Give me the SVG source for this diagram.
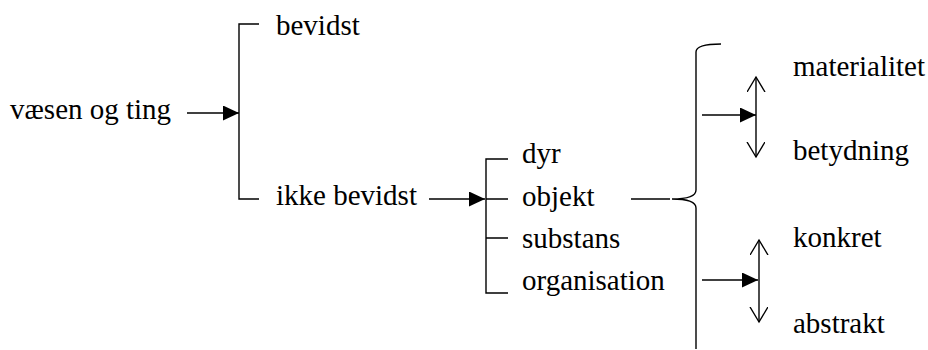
<svg xmlns="http://www.w3.org/2000/svg" width="928" height="350" viewBox="0 0 928 350">
<style>
.ln { stroke: #000; stroke-width: 1.4; fill: none; }
text { font-family: "Liberation Serif", "Times New Roman", serif; font-size: 29px; fill: #000; }
</style>
<defs>
<marker id="fa" markerUnits="userSpaceOnUse" markerWidth="17" markerHeight="16" refX="16" refY="7.5" orient="auto">
<path d="M0,0 L16,7.5 L0,15 z" fill="#000"/>
</marker>
<marker id="oa" markerUnits="userSpaceOnUse" markerWidth="17" markerHeight="20" refX="15" refY="9" orient="auto-start-reverse">
<path d="M0,0 L15,9 L0,18" fill="none" stroke="#000" stroke-width="1.4"/>
</marker>
</defs>
<g id="n-vaesen"><text x="10" y="119">væsen og ting</text></g>
<g id="n-bevidst"><text x="276" y="35">bevidst</text></g>
<g id="n-ikke"><text x="276" y="205">ikke bevidst</text></g>
<g id="n-dyr"><text x="522" y="163">dyr</text></g>
<g id="n-objekt"><text x="522" y="206">objekt</text></g>
<g id="n-substans"><text x="522" y="248">substans</text></g>
<g id="n-organisation"><text x="522" y="290">organisation</text></g>
<g id="n-materialitet"><text x="793" y="76">materialitet</text></g>
<g id="n-betydning"><text x="793" y="160">betydning</text></g>
<g id="n-konkret"><text x="793" y="247">konkret</text></g>
<g id="n-abstrakt"><text x="793" y="333">abstrakt</text></g>
<g id="connectors">
<line class="ln" x1="187" y1="113" x2="239" y2="113" marker-end="url(#fa)"/>
<path class="ln" d="M259,24 H239 V199 H259"/>
<line class="ln" x1="429" y1="199" x2="485" y2="199" marker-end="url(#fa)"/>
<path class="ln" d="M508,159 H486 V293 H508 M486,199 H508 M486,238 H508"/>
<line class="ln" x1="631" y1="199" x2="670" y2="199"/>
<path class="ln" d="M721,44 Q696,44 696,52 V190 Q696,199 672,199 Q696,199 696,208 V349"/>
<line class="ln" x1="702" y1="115" x2="756" y2="115" marker-end="url(#fa)"/>
<line class="ln" x1="756" y1="157" x2="756" y2="77" marker-start="url(#oa)" marker-end="url(#oa)"/>
<line class="ln" x1="702" y1="280" x2="758" y2="280" marker-end="url(#fa)"/>
<line class="ln" x1="759" y1="322" x2="759" y2="240" marker-start="url(#oa)" marker-end="url(#oa)"/>
</g>
</svg>
